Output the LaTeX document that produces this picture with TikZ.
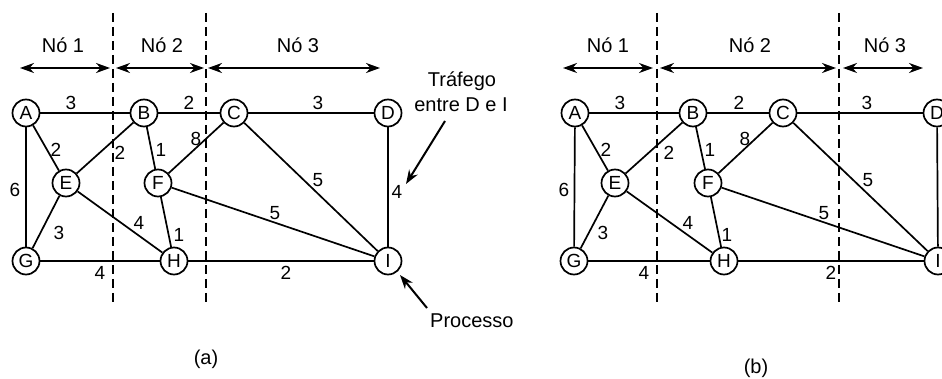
\documentclass[tikz,border=0pt]{standalone}
\usepackage{fontspec}
\setmainfont{Liberation Sans}
\usetikzlibrary{arrows.meta}
\tikzset{
  nd/.style={circle,draw,line width=1.7pt,minimum size=27pt,inner sep=0pt,fill=white,font=\fontsize{19}{19}\selectfont},
  edge/.style={line width=1.7pt},
  wt/.style={inner sep=0pt,font=\fontsize{19}{19}\selectfont},
  txt/.style={inner sep=0pt,font=\fontsize{20}{20}\selectfont},
  sep/.style={line width=1.6pt,dash pattern=on 9pt off 5pt},
  span/.style={line width=2pt,{Stealth[length=14pt,width=10pt]}-{Stealth[length=14pt,width=10pt]}},
  ann/.style={line width=2pt,-{Stealth[length=14pt,width=10pt]}}
}
\begin{document}
\begin{tikzpicture}[x=1pt,y=-1pt]
\clip (0,0) rectangle (942,379);
% ---------- (a) ----------
\draw[sep] (113,13) coordinate (s1t) -- (113,305) coordinate (s1b);
\draw[sep] (206,13) coordinate (s2t) -- (206,305) coordinate (s2b);
\coordinate (p1) at (20,68); \coordinate (p2) at (110,68);
\coordinate (p3) at (116,68); \coordinate (p4) at (204,68);
\coordinate (p5) at (208,68); \coordinate (p6) at (380,68);
\draw[span] (p1) -- (p2);
\draw[span] (p3) -- (p4);
\draw[span] (p5) -- (p6);
\node[txt,anchor=base] (n1) at (63,53) {Nó 1};
\node[txt,anchor=base] (n2) at (162,53) {Nó 2};
\node[txt,anchor=base] (n3) at (298,53) {Nó 3};

\node[nd] (A) at (26,113) {A};
\node[nd] (B) at (144,113) {B};
\node[nd] (C) at (234,113) {C};
\node[nd] (D) at (388,113) {D};
\node[nd] (E) at (66,183) {E};
\node[nd] (F) at (158,183) {F};
\node[nd] (G) at (26,261) {G};
\node[nd] (H) at (174,261) {H};
\node[nd] (I) at (388,261) {I};
\draw[edge] (A) -- (B);
\draw[edge] (B) -- (C);
\draw[edge] (C) -- (D);
\draw[edge] (A) -- (E);
\draw[edge] (A) -- (G);
\draw[edge] (B) -- (E);
\draw[edge] (B) -- (F);
\draw[edge] (C) -- (F);
\draw[edge] (C) -- (I);
\draw[edge] (D) -- (I);
\draw[edge] (E) -- (G);
\draw[edge] (E) -- (H);
\draw[edge] (F) -- (H);
\draw[edge] (F) -- (I);
\draw[edge] (G) -- (H);
\draw[edge] (H) -- (I);
\node[wt] (wab) at (71,103) {3};
\node[wt] (wbc) at (189,103) {2};
\node[wt] (wcd) at (318,103) {3};
\node[wt] (wae) at (56,150) {2};
\node[wt] (wbe) at (120,153) {2};
\node[wt] (wbf) at (161,150) {1};
\node[wt] (wcf) at (196,139) {8};
\node[wt] (wci) at (318,180) {5};
\node[wt] (wag) at (15,190) {6};
\node[wt] (wdi) at (397,192) {4};
\node[wt] (weg) at (59,233) {3};
\node[wt] (weh) at (139,223) {4};
\node[wt] (wfh) at (179,235) {1};
\node[wt] (wfi) at (275,213) {5};
\node[wt] (wgh) at (100,273) {4};
\node[wt] (whi) at (286,273) {2};

\node[txt,anchor=base] (t1) at (462,87) {Tráfego};
\node[txt,anchor=base] (t2) at (461,112) {entre D e I};
\coordinate (ta) at (445,121);
\coordinate (tb) at (406,184);
\draw[ann] (ta) -- (tb);
\node[txt,anchor=base west] (pr) at (430,327) {Processo};
\coordinate (pa) at (427,308);
\coordinate (pb) at (400,275);
\draw[ann] (pa) -- (pb);
\node[txt] (la) at (206,359) {(a)};

% ---------- (b) ----------
\draw[sep] (657,13) coordinate (u1t) -- (657,305) coordinate (u1b);
\draw[sep] (839,13) coordinate (u2t) -- (839,305) coordinate (u2b);
\coordinate (q1) at (563,68); \coordinate (q2) at (653,68);
\coordinate (q3) at (660,68); \coordinate (q4) at (836,68);
\coordinate (q5) at (843,68); \coordinate (q6) at (923,68);
\draw[span] (q1) -- (q2);
\draw[span] (q3) -- (q4);
\draw[span] (q5) -- (q6);
\node[txt,anchor=base] (m1) at (608,53) {Nó 1};
\node[txt,anchor=base] (m2) at (750,53) {Nó 2};
\node[txt,anchor=base] (m3) at (885,53) {Nó 3};

\node[nd] (bA) at (575,113) {A};
\node[nd] (bB) at (693,113) {B};
\node[nd] (bC) at (783,113) {C};
\node[nd] (bD) at (937,113) {D};
\node[nd] (bE) at (615,183) {E};
\node[nd] (bF) at (708,183) {F};
\node[nd] (bG) at (574,261) {G};
\node[nd] (bH) at (724,261) {H};
\node[nd] (bI) at (938,261) {I};
\draw[edge] (bA) -- (bB);
\draw[edge] (bB) -- (bC);
\draw[edge] (bC) -- (bD);
\draw[edge] (bA) -- (bE);
\draw[edge] (bA) -- (bG);
\draw[edge] (bB) -- (bE);
\draw[edge] (bB) -- (bF);
\draw[edge] (bC) -- (bF);
\draw[edge] (bC) -- (bI);
\draw[edge] (bD) -- (bI);
\draw[edge] (bE) -- (bG);
\draw[edge] (bE) -- (bH);
\draw[edge] (bF) -- (bH);
\draw[edge] (bF) -- (bI);
\draw[edge] (bG) -- (bH);
\draw[edge] (bH) -- (bI);
\node[wt] (vab) at (620,103) {3};
\node[wt] (vbc) at (739,103) {2};
\node[wt] (vcd) at (867,103) {3};
\node[wt] (vae) at (606,150) {2};
\node[wt] (vbe) at (669,153) {2};
\node[wt] (vbf) at (710,150) {1};
\node[wt] (vcf) at (745,139) {8};
\node[wt] (vci) at (868,180) {5};
\node[wt] (vag) at (564,190) {6};
\node[wt] (veg) at (603,233) {3};
\node[wt] (veh) at (688,223) {4};
\node[wt] (vfh) at (727,235) {1};
\node[wt] (vfi) at (824,213) {5};
\node[wt] (vgh) at (644,273) {4};
\node[wt] (vhi) at (831,273) {2};
\node[txt] (lb) at (756,368) {(b)};
\end{tikzpicture}
\end{document}
